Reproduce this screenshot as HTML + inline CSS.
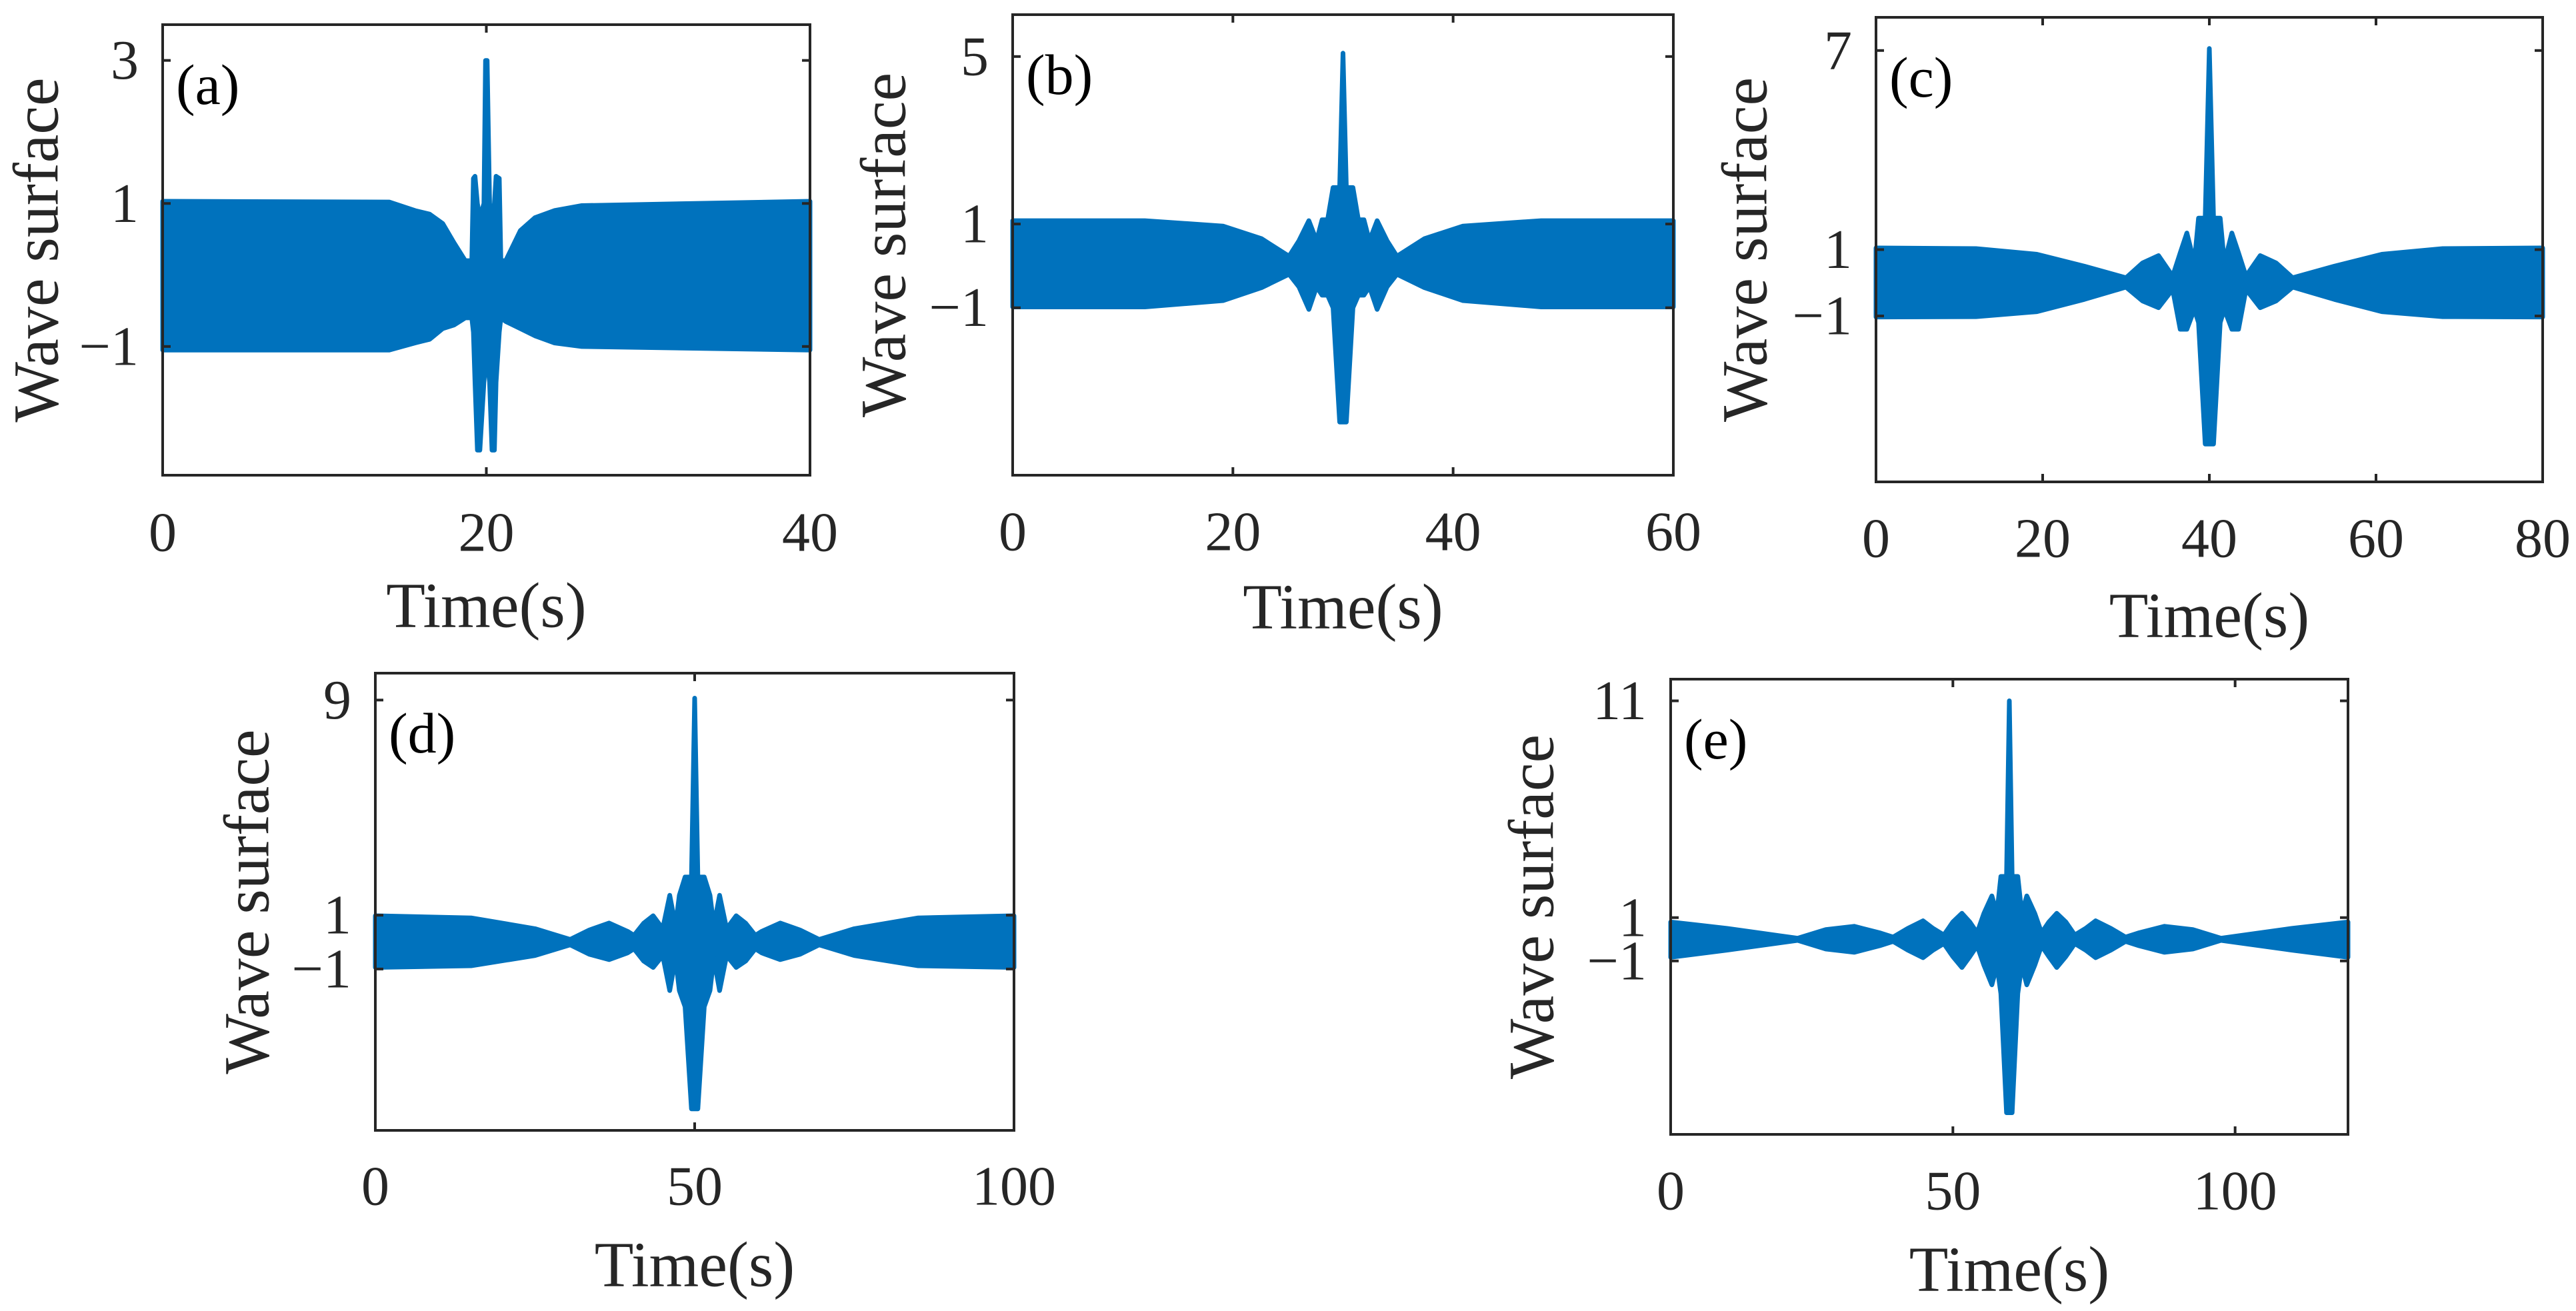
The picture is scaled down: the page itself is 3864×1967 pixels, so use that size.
<!DOCTYPE html>
<html><head><meta charset="utf-8"><style>
html,body{margin:0;padding:0;background:#fff;}
svg{display:block;font-family:"Liberation Serif",serif;}
</style></head><body>
<svg id="fig" width="3864" height="1967" viewBox="0 0 3864 1967" xmlns="http://www.w3.org/2000/svg"></svg>
<script>
// ---- Panel (a) data ----
const aTimes=[0,14,15.6,16.5,17.3,18.0,18.7,19.1,19.2,19.3,19.45,19.6,19.85,19.95,20.05,20.2,20.35,20.5,20.6,20.8,20.9,21.2,22.1,23.0,24.2,25.9,40];
const aUpper=[1.03,1.02,0.9,0.85,0.72,0.45,0.2,0.2,1.35,1.38,1.0,0.8,1.0,3.0,3.0,1.0,0.8,1.0,1.38,1.35,0.2,0.2,0.62,0.8,0.9,0.97,1.03];
const aLower=[-1.05,-1.05,-0.95,-0.9,-0.75,-0.7,-0.6,-0.6,-0.8,-1.5,-2.45,-2.45,-1.5,-1.2,-1.2,-1.5,-2.45,-2.45,-1.5,-0.8,-0.6,-0.65,-0.75,-0.85,-0.95,-1.0,-1.05];
const aXTicks=[0,20,40];
const aYTicks=[-1,1,3];
// ---- Panel (b) data ----
const bTimes=[0,12,19.1,22.6,25.1,26.0,26.9,27.6,28.1,28.6,29.1,29.7,30.0,30.3,30.9,31.4,31.9,32.4,33.1,34.0,34.9,37.4,40.9,48,60];
const bUpper=[1.08,1.08,0.95,0.65,0.23,0.6,1.08,0.6,1.1,1.1,1.87,1.87,5.08,1.87,1.87,1.1,1.1,0.6,1.08,0.6,0.23,0.65,0.95,1.08,1.08];
const bLower=[-0.98,-0.98,-0.83,-0.52,-0.2,-0.5,-1.04,-0.5,-0.7,-0.7,-1.0,-3.73,-3.73,-3.73,-1.0,-0.7,-0.7,-0.5,-1.04,-0.5,-0.2,-0.52,-0.83,-0.98,-0.98];
const bXTicks=[0,20,40,60];
const bYTicks=[-1,1,5];
// ---- Panel (c) data ----
const cTimes=[0,12,19.3,25,30.0,32,33.9,35.6,36.5,37.3,38.2,38.7,39.5,40.0,40.5,41.3,41.8,42.7,43.5,44.4,46.1,48,50,55,60.7,68,80];
const cUpper=[1.05,1.03,0.86,0.5,0.15,0.6,0.82,0.2,0.9,1.5,0.6,1.95,1.95,7.06,1.95,1.95,0.6,1.5,0.9,0.2,0.82,0.6,0.15,0.5,0.86,1.03,1.05];
const cLower=[-1.03,-1.02,-0.87,-0.5,-0.13,-0.55,-0.75,-0.2,-1.4,-1.4,-0.8,-1.2,-4.86,-4.86,-4.86,-1.2,-0.8,-1.4,-1.4,-0.2,-0.75,-0.55,-0.13,-0.5,-0.87,-1.02,-1.03];
const cXTicks=[0,20,40,60,80];
const cYTicks=[-1,1,7];
// ---- Panel (d) data ----
const dTimes=[0,15,25,30.5,33.5,36.6,39.5,40.5,42,43.5,45,46.1,47.0,47.6,48.5,49.5,50.0,50.5,51.5,52.4,53.0,53.9,55,56.5,58,59.5,60.5,63.4,66.5,69.5,75,85,100];
const dUpper=[0.98,0.9,0.5,0.1,0.45,0.71,0.4,0.25,0.7,0.98,0.5,1.74,0.6,1.74,2.42,2.42,9.07,2.42,2.42,1.74,0.6,1.74,0.5,0.98,0.7,0.25,0.4,0.71,0.45,0.1,0.5,0.9,0.98];
const dLower=[-0.94,-0.88,-0.5,-0.1,-0.45,-0.65,-0.4,-0.25,-0.7,-0.94,-0.5,-1.8,-0.6,-1.8,-2.4,-6.2,-6.2,-6.2,-2.4,-1.8,-0.6,-1.8,-0.5,-0.94,-0.7,-0.25,-0.4,-0.65,-0.45,-0.1,-0.5,-0.88,-0.94];
const dXTicks=[0,50,100];
const dYTicks=[-1,1,9];
// ---- Panel (e) data ----
const eTimes=[0,10,22.5,27.5,32.5,37,39.4,42,44.7,46.5,48.4,50,51.6,53,54.3,55.5,56.9,57.8,58.5,59.5,60,60.5,61.5,62.2,63.1,64.5,65.7,67,68.4,70,71.6,73.5,75.3,78,80.6,83,87.5,92.5,97.5,110,120];
const eUpper=[0.8,0.5,0.05,0.45,0.6,0.3,0.1,0.5,0.85,0.5,0.2,0.8,1.2,0.8,0.3,1.2,2.0,1.2,2.9,2.9,11.0,2.9,2.9,1.2,2.0,1.2,0.3,0.8,1.2,0.8,0.2,0.5,0.85,0.5,0.1,0.3,0.6,0.45,0.05,0.5,0.8];
const eLower=[-0.83,-0.5,-0.05,-0.45,-0.6,-0.3,-0.1,-0.5,-0.85,-0.5,-0.2,-0.8,-1.3,-0.8,-0.3,-1.2,-2.1,-1.2,-2.5,-8.0,-8.0,-8.0,-2.5,-1.2,-2.1,-1.2,-0.3,-0.8,-1.3,-0.8,-0.2,-0.5,-0.85,-0.5,-0.1,-0.3,-0.6,-0.45,-0.05,-0.5,-0.83];
const eXTicks=[0,50,100];
const eYTicks=[-1,1,11];

const NS="http://www.w3.org/2000/svg";
const svg=document.getElementById('fig');
function mk(tag,attrs,parent){const e=document.createElementNS(NS,tag);for(const k in attrs)e.setAttribute(k,attrs[k]);(parent||svg).appendChild(e);return e;}

const panels=[
 {id:'a',box:[244,37,1215,713],xd:[0,40],yd:[-2.8,3.5],t:aTimes,u:aUpper,l:aLower,xt:aXTicks,yt:aYTicks,xly:799,tly:908,yly:54},
 {id:'b',box:[1519,22,2510,713],xd:[0,60],yd:[-5,6],t:bTimes,u:bUpper,l:bLower,xt:bXTicks,yt:bYTicks,xly:798,tly:910,yly:1325},
 {id:'c',box:[2814,26,3814,723],xd:[0,80],yd:[-6,8],t:cTimes,u:cUpper,l:cLower,xt:cXTicks,yt:cYTicks,xly:808,tly:923,yly:2617},
 {id:'d',box:[563,1010,1521,1696],xd:[0,100],yd:[-7,10],t:dTimes,u:dUpper,l:dLower,xt:dXTicks,yt:dYTicks,xly:1780,tly:1897,yly:370},
 {id:'e',box:[2506,1019,3522,1702],xd:[0,120],yd:[-9,12],t:eTimes,u:eUpper,l:eLower,xt:eXTicks,yt:eYTicks,xly:1787,tly:1904,yly:2297}
];

panels.forEach(p=>{
  const [x0,y0,x1,y1]=p.box;
  const sx=v=>x0+(v-p.xd[0])/(p.xd[1]-p.xd[0])*(x1-x0);
  const sy=v=>y1-(v-p.yd[0])/(p.yd[1]-p.yd[0])*(y1-y0);
  const g=mk('g',{});
  
  
  let pts=[];
  for(let i=0;i<p.t.length;i++)pts.push(sx(p.t[i]).toFixed(1)+','+sy(p.u[i]).toFixed(1));
  for(let i=p.t.length-1;i>=0;i--)pts.push(sx(p.t[i]).toFixed(1)+','+sy(p.l[i]).toFixed(1));
  const poly=mk('polygon',{points:pts.join(' '),fill:'#0072BD',stroke:'#0072BD','stroke-width':7,'stroke-linejoin':'round'},g);
  
  
  p.xt.forEach(v=>{
    const x=sx(v);
    mk('line',{x1:x,y1:y1,x2:x,y2:y1-12,stroke:'#262626','stroke-width':4},g);
    mk('line',{x1:x,y1:y0,x2:x,y2:y0+12,stroke:'#262626','stroke-width':4},g);
    const t=mk('text',{x:x,y:p.xly,'text-anchor':'middle','dominant-baseline':'central','font-size':84,fill:'#262626'},g);
    t.textContent=String(v);
    
    
  });
  p.yt.forEach(v=>{
    const y=sy(v);
    mk('line',{x1:x0,y1:y,x2:x0+12,y2:y,stroke:'#262626','stroke-width':4},g);
    mk('line',{x1:x1,y1:y,x2:x1-12,y2:y,stroke:'#262626','stroke-width':4},g);
    const t=mk('text',{x:x0-36,y:y,'text-anchor':'end','dominant-baseline':'central','font-size':84,fill:'#262626'},g);
    t.textContent=v<0?'\u2212'+Math.abs(v):String(v);
    
    
  });
  const r=mk('rect',{x:x0,y:y0,width:x1-x0,height:y1-y0,fill:'none',stroke:'#262626','stroke-width':4},g);
  
  
  const pl=mk('text',{x:x0+20,y:y0+90,'dominant-baseline':'central','font-size':86,fill:'#000'},g);
  pl.textContent='('+p.id+')';
  
  
  const xl=mk('text',{x:(x0+x1)/2,y:p.tly,'text-anchor':'middle','dominant-baseline':'central','font-size':96,fill:'#262626'},g);
  xl.textContent='Time(s)';
  
  
  const cy=(y0+y1)/2;
  const yl=mk('text',{x:p.yly,y:cy,'text-anchor':'middle','dominant-baseline':'central','font-size':96,fill:'#262626',transform:'rotate(-90 '+p.yly+' '+cy+')'},g);
  yl.textContent='Wave surface';
  
  
});
</script>
</body></html>
